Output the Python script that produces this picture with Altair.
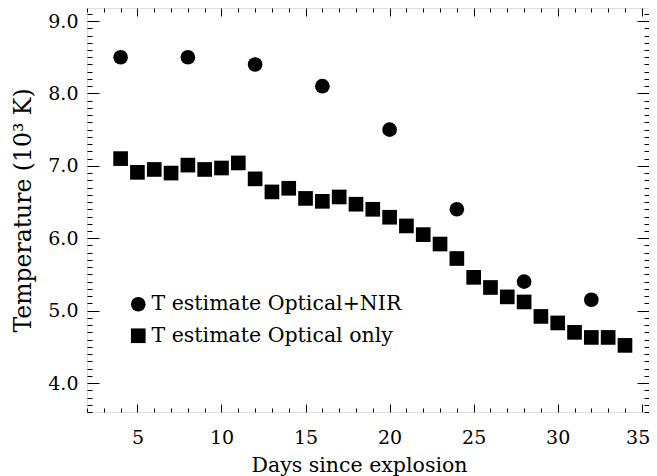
import altair as alt
import pandas as pd

# ---- data ----
days_nir = [4, 8, 12, 16, 20, 24, 28, 32]
temp_nir = [8.5, 8.5, 8.4, 8.1, 7.5, 6.4, 5.4, 5.15]

days_opt = list(range(4, 35))
temp_opt = [7.10, 6.91, 6.95, 6.90, 7.01, 6.95, 6.97, 7.04,
            6.82, 6.64, 6.69, 6.55, 6.51, 6.57, 6.47, 6.40,
            6.29, 6.17, 6.05, 5.92, 5.72, 5.46, 5.32, 5.19,
            5.12, 4.92, 4.83, 4.70, 4.63, 4.63, 4.52]

series_names = ["T estimate Optical+NIR", "T estimate Optical only"]

x_major = [5, 10, 15, 20, 25, 30, 35]
x_minor = [d for d in range(2, 36) if d % 5 != 0]
y_major = [4.0, 5.0, 6.0, 7.0, 8.0, 9.0]
y_minor = [round(3.6 + 0.1 * i, 1) for i in range(56)]
y_minor = [v for v in y_minor if abs(v - round(v)) > 1e-6]

df = pd.DataFrame({
    "day": days_nir + days_opt,
    "temp": temp_nir + temp_opt,
    "series": [series_names[0]] * len(days_nir) + [series_names[1]] * len(days_opt),
})

W, H = 562, 404
FONT = "DejaVu Serif"

xs = alt.Scale(domain=[2, 35.43], nice=False, zero=False)
ys = alt.Scale(domain=[3.6, 9.18], nice=False, zero=False)

# main layer: points + label axes
main = alt.Chart(df).mark_point(filled=True, opacity=1, color="black").encode(
    x=alt.X("day:Q", scale=xs, axis=alt.Axis(
        orient="bottom", values=x_major, ticks=False, domain=False, grid=False,
        labelFont=FONT, labelFontSize=19, labelColor="black", labelPadding=16,
        labelFlush=20, labelFlushOffset=8,
        title="Days since explosion", titleFont=FONT, titleFontSize=20.5,
        titleFontWeight="normal", titleColor="black",
        titleBaseline="alphabetic", titleY=59, titleX=272, titleAlign="center")),
    y=alt.Y("temp:Q", scale=ys, axis=alt.Axis(
        orient="left", values=y_major, ticks=False, domain=False, grid=False,
        format=".1f", labelFont=FONT, labelFontSize=19, labelColor="black",
        labelPadding=9,
        title="Temperature (10³ K)", titleFont=FONT, titleFontSize=23.5,
        titleFontWeight="normal", titleColor="black", titlePadding=12)),
    shape=alt.Shape("series:N", scale=alt.Scale(domain=series_names, range=["circle", "square"]),
                    legend=alt.Legend(title=None, orient="none", legendX=41, legendY=286,
                                      symbolSize=215, symbolFillColor="black",
                                      symbolStrokeColor="black", symbolStrokeWidth=0,
                                      labelFont=FONT, labelFontSize=20.5, labelColor="black",
                                      labelLimit=400, rowPadding=10.5, labelOffset=3)),
    size=alt.value(215),
)


def tick_layer(x_vals, x_orient, x_len, y_vals, y_orient, y_len):
    return alt.Chart(df).mark_point(opacity=0).encode(
        x=alt.X("day:Q", scale=xs, axis=alt.Axis(
            orient=x_orient, offset=-H, values=x_vals, labels=False, domain=False,
            grid=False, ticks=True, tickSize=x_len, tickColor="black", tickWidth=1,
            title=None)),
        y=alt.Y("temp:Q", scale=ys, axis=alt.Axis(
            orient=y_orient, offset=-W, values=y_vals, labels=False, domain=False,
            grid=False, ticks=True, tickSize=y_len, tickColor="black", tickWidth=1,
            title=None)),
    )


# top-oriented axis shifted down = bottom inward ticks; right shifted left = left inward ticks
l2 = tick_layer(x_major, "top", 8, y_major, "right", 12)
l3 = tick_layer(x_minor, "top", 4, y_minor, "right", 5)
# bottom-oriented axis shifted up = top inward ticks; left shifted right = right inward ticks
l4 = tick_layer(x_major, "bottom", 8, y_major, "left", 12)
l5 = tick_layer(x_minor, "bottom", 4, y_minor, "left", 5)

chart = alt.layer(main, l2, l3, l4, l5).resolve_axis(
    x="independent", y="independent"
).properties(
    width=W, height=H,
    autosize=alt.AutoSizeParams(type="none"),
    padding={"left": 79, "top": 0, "right": 0, "bottom": 72},
).configure_view(
    stroke="black", strokeWidth=1.5
).configure(background="white")

chart.save("out.html", embed_options={"renderer": "svg", "actions": False})
